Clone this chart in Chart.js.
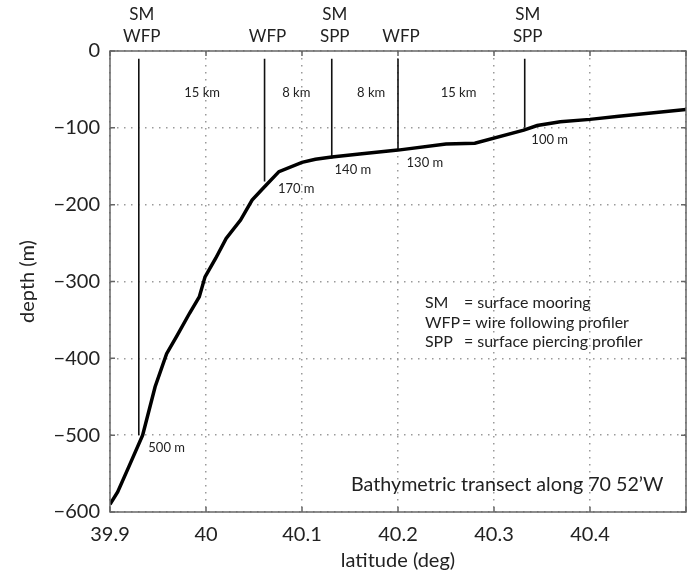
<!DOCTYPE html>
<html>
<head>
<meta charset="utf-8">
<script src="https://cdn.jsdelivr.net/npm/chart.js@4"></script>
<style>
  html, body { margin: 0; padding: 0; background: #fff; }
  #wrap { width: 697px; height: 573px; }
</style>
</head>
<body>
<div id="wrap"><canvas id="bathyChart" width="697" height="573"></canvas></div>
<script>
// bottom profile along the transect (latitude in deg, depth in m)
const LATITUDE = [39.900, 39.908, 39.920, 39.934, 39.947, 39.959, 39.970, 39.983, 39.993, 39.999, 40.010, 40.021, 40.036, 40.048, 40.060, 40.076, 40.100, 40.114, 40.131, 40.160, 40.200, 40.250, 40.280, 40.331, 40.345, 40.369, 40.400, 40.430, 40.469, 40.500];
const DEPTH = [-590, -574, -540, -500, -437, -394, -370, -341, -320, -294, -270, -244, -220, -194, -178, -157, -145, -141, -138, -134, -129, -121, -120, -103, -97, -92, -89, -85, -80, -76];

// moorings / profilers
const STATION_LAT = [39.930, 40.061, 40.131, 40.200, 40.332];
const STATION_TOP = -10;
const STATION_BOTTOM = [-500, -170, -140, -130, -100];
const STATION_NAMES = [['SM', 'WFP'], ['WFP'], ['SM', 'SPP'], ['WFP'], ['SM', 'SPP']];

const DEPTH_LABELS = ['500 m', '170 m', '140 m', '130 m', '100 m'];
const DEPTH_LABEL_LAT = [39.959, 40.094, 40.153, 40.228, 40.358];
const DEPTH_LABEL_DEPTH = [-516, -180, -155, -145, -115];

const SPACING_LABELS = ['15 km', '8 km', '8 km', '15 km'];
const SPACING_LAT = [39.996, 40.094, 40.172, 40.263];
const SPACING_DEPTH = -55;

const KEY_NAMES = ['SM', 'WFP', 'SPP'];
const KEY_TEXT = ['= surface mooring', '= wire following profiler', '= surface piercing profiler'];
const KEY_DEPTH = [-328, -354, -379];

const NOTE = 'Bathymetric transect along 70 52\u2019W';

const FONT = 'Lato, "Open Sans", sans-serif';

const datasets = [{
    label: 'bathymetry',
    data: LATITUDE.map((x, i) => ({ x: x, y: DEPTH[i] })),
    borderColor: '#000', borderWidth: 3.5, pointRadius: 0, tension: 0
}];
STATION_LAT.forEach((lat, i) => {
    datasets.push({
        label: 'station ' + i,
        data: [{ x: lat, y: STATION_TOP }, { x: lat, y: STATION_BOTTOM[i] }],
        borderColor: '#111', borderWidth: 1.6, pointRadius: 0
    });
});

// frame, inward ticks and all the text annotations
const annotations = {
    id: 'annotations',
    afterDatasetsDraw(chart) {
        const ctx = chart.ctx, a = chart.chartArea;
        const xs = chart.scales.x, ys = chart.scales.y;
        ctx.save();
        ctx.strokeStyle = '#666';
        ctx.lineWidth = 1.5;
        ctx.strokeRect(a.left, a.top, a.right - a.left, a.bottom - a.top);
        ctx.beginPath();
        xs.ticks.forEach(t => {
            const px = xs.getPixelForValue(t.value);
            ctx.moveTo(px, a.bottom); ctx.lineTo(px, a.bottom - 5);
            ctx.moveTo(px, a.top); ctx.lineTo(px, a.top + 5);
        });
        ys.ticks.forEach(t => {
            const py = ys.getPixelForValue(t.value);
            ctx.moveTo(a.left, py); ctx.lineTo(a.left + 5, py);
            ctx.moveTo(a.right, py); ctx.lineTo(a.right - 5, py);
        });
        ctx.stroke();

        ctx.fillStyle = '#222';
        ctx.textBaseline = 'middle';
        ctx.textAlign = 'center';
        ctx.font = '17px ' + FONT;
        STATION_NAMES.forEach((names, i) => {
            const px = xs.getPixelForValue(STATION_LAT[i]) + 3;
            names.slice().reverse().forEach((n, j) => {
                ctx.fillText(n, px, a.top - 14 - j * 22);
            });
        });

        ctx.font = '13px ' + FONT;
        SPACING_LABELS.forEach((s, i) => {
            ctx.fillText(s, xs.getPixelForValue(SPACING_LAT[i]), ys.getPixelForValue(SPACING_DEPTH));
        });
        DEPTH_LABELS.forEach((s, i) => {
            ctx.fillText(s, xs.getPixelForValue(DEPTH_LABEL_LAT[i]), ys.getPixelForValue(DEPTH_LABEL_DEPTH[i]));
        });

        ctx.textAlign = 'left';
        ctx.font = '16px ' + FONT;
        const keyX = xs.getPixelForValue(40.228);
        const eqShift = [39, 37, 39];
        KEY_NAMES.forEach((k, i) => {
            const py = ys.getPixelForValue(KEY_DEPTH[i]);
            ctx.fillText(k, keyX, py);
            ctx.fillText(KEY_TEXT[i], keyX + eqShift[i], py);
        });

        ctx.font = '19.7px ' + FONT;
        ctx.fillText(NOTE, xs.getPixelForValue(40.151), ys.getPixelForValue(-565));
        ctx.restore();
    }
};

new Chart(document.getElementById('bathyChart'), {
    type: 'line',
    data: { datasets: datasets },
    plugins: [annotations],
    options: {
        responsive: false,
        animation: false,
        layout: { padding: { left: 0, right: 5, top: 51, bottom: 0 } },
        plugins: { legend: { display: false }, tooltip: { enabled: false } },
        scales: {
            x: {
                type: 'linear', min: 39.9, max: 40.5,
                afterFit: s => { s.height = 61; },
                ticks: {
                    stepSize: 0.1, padding: 11, color: '#222',
                    font: { family: FONT, size: 20 },
                    callback: v => (Math.abs(v - 40.5) < 1e-6 ? '' : String(Math.round(v * 10) / 10))
                },
                grid: { color: '#9a9a9a', lineWidth: 1.5, drawTicks: false },
                border: { display: false, dash: [1.5, 5.5] },
                title: { display: true, text: 'latitude (deg)', color: '#222', font: { family: FONT, size: 20 }, padding: { top: 0, bottom: 0 } }
            },
            y: {
                type: 'linear', min: -600, max: 0,
                afterFit: s => { s.width = 110; },
                ticks: {
                    stepSize: 100, padding: 10, color: '#222',
                    font: { family: FONT, size: 20 },
                    callback: v => String(v).replace('-', '\u2212')
                },
                grid: { color: '#9a9a9a', lineWidth: 1.5, drawTicks: false },
                border: { display: false, dash: [1.5, 5.5] },
                title: { display: true, text: 'depth (m)', color: '#222', font: { family: FONT, size: 20 }, padding: { top: 16, bottom: 0 } }
            }
        }
    }
});
</script>
</body>
</html>
